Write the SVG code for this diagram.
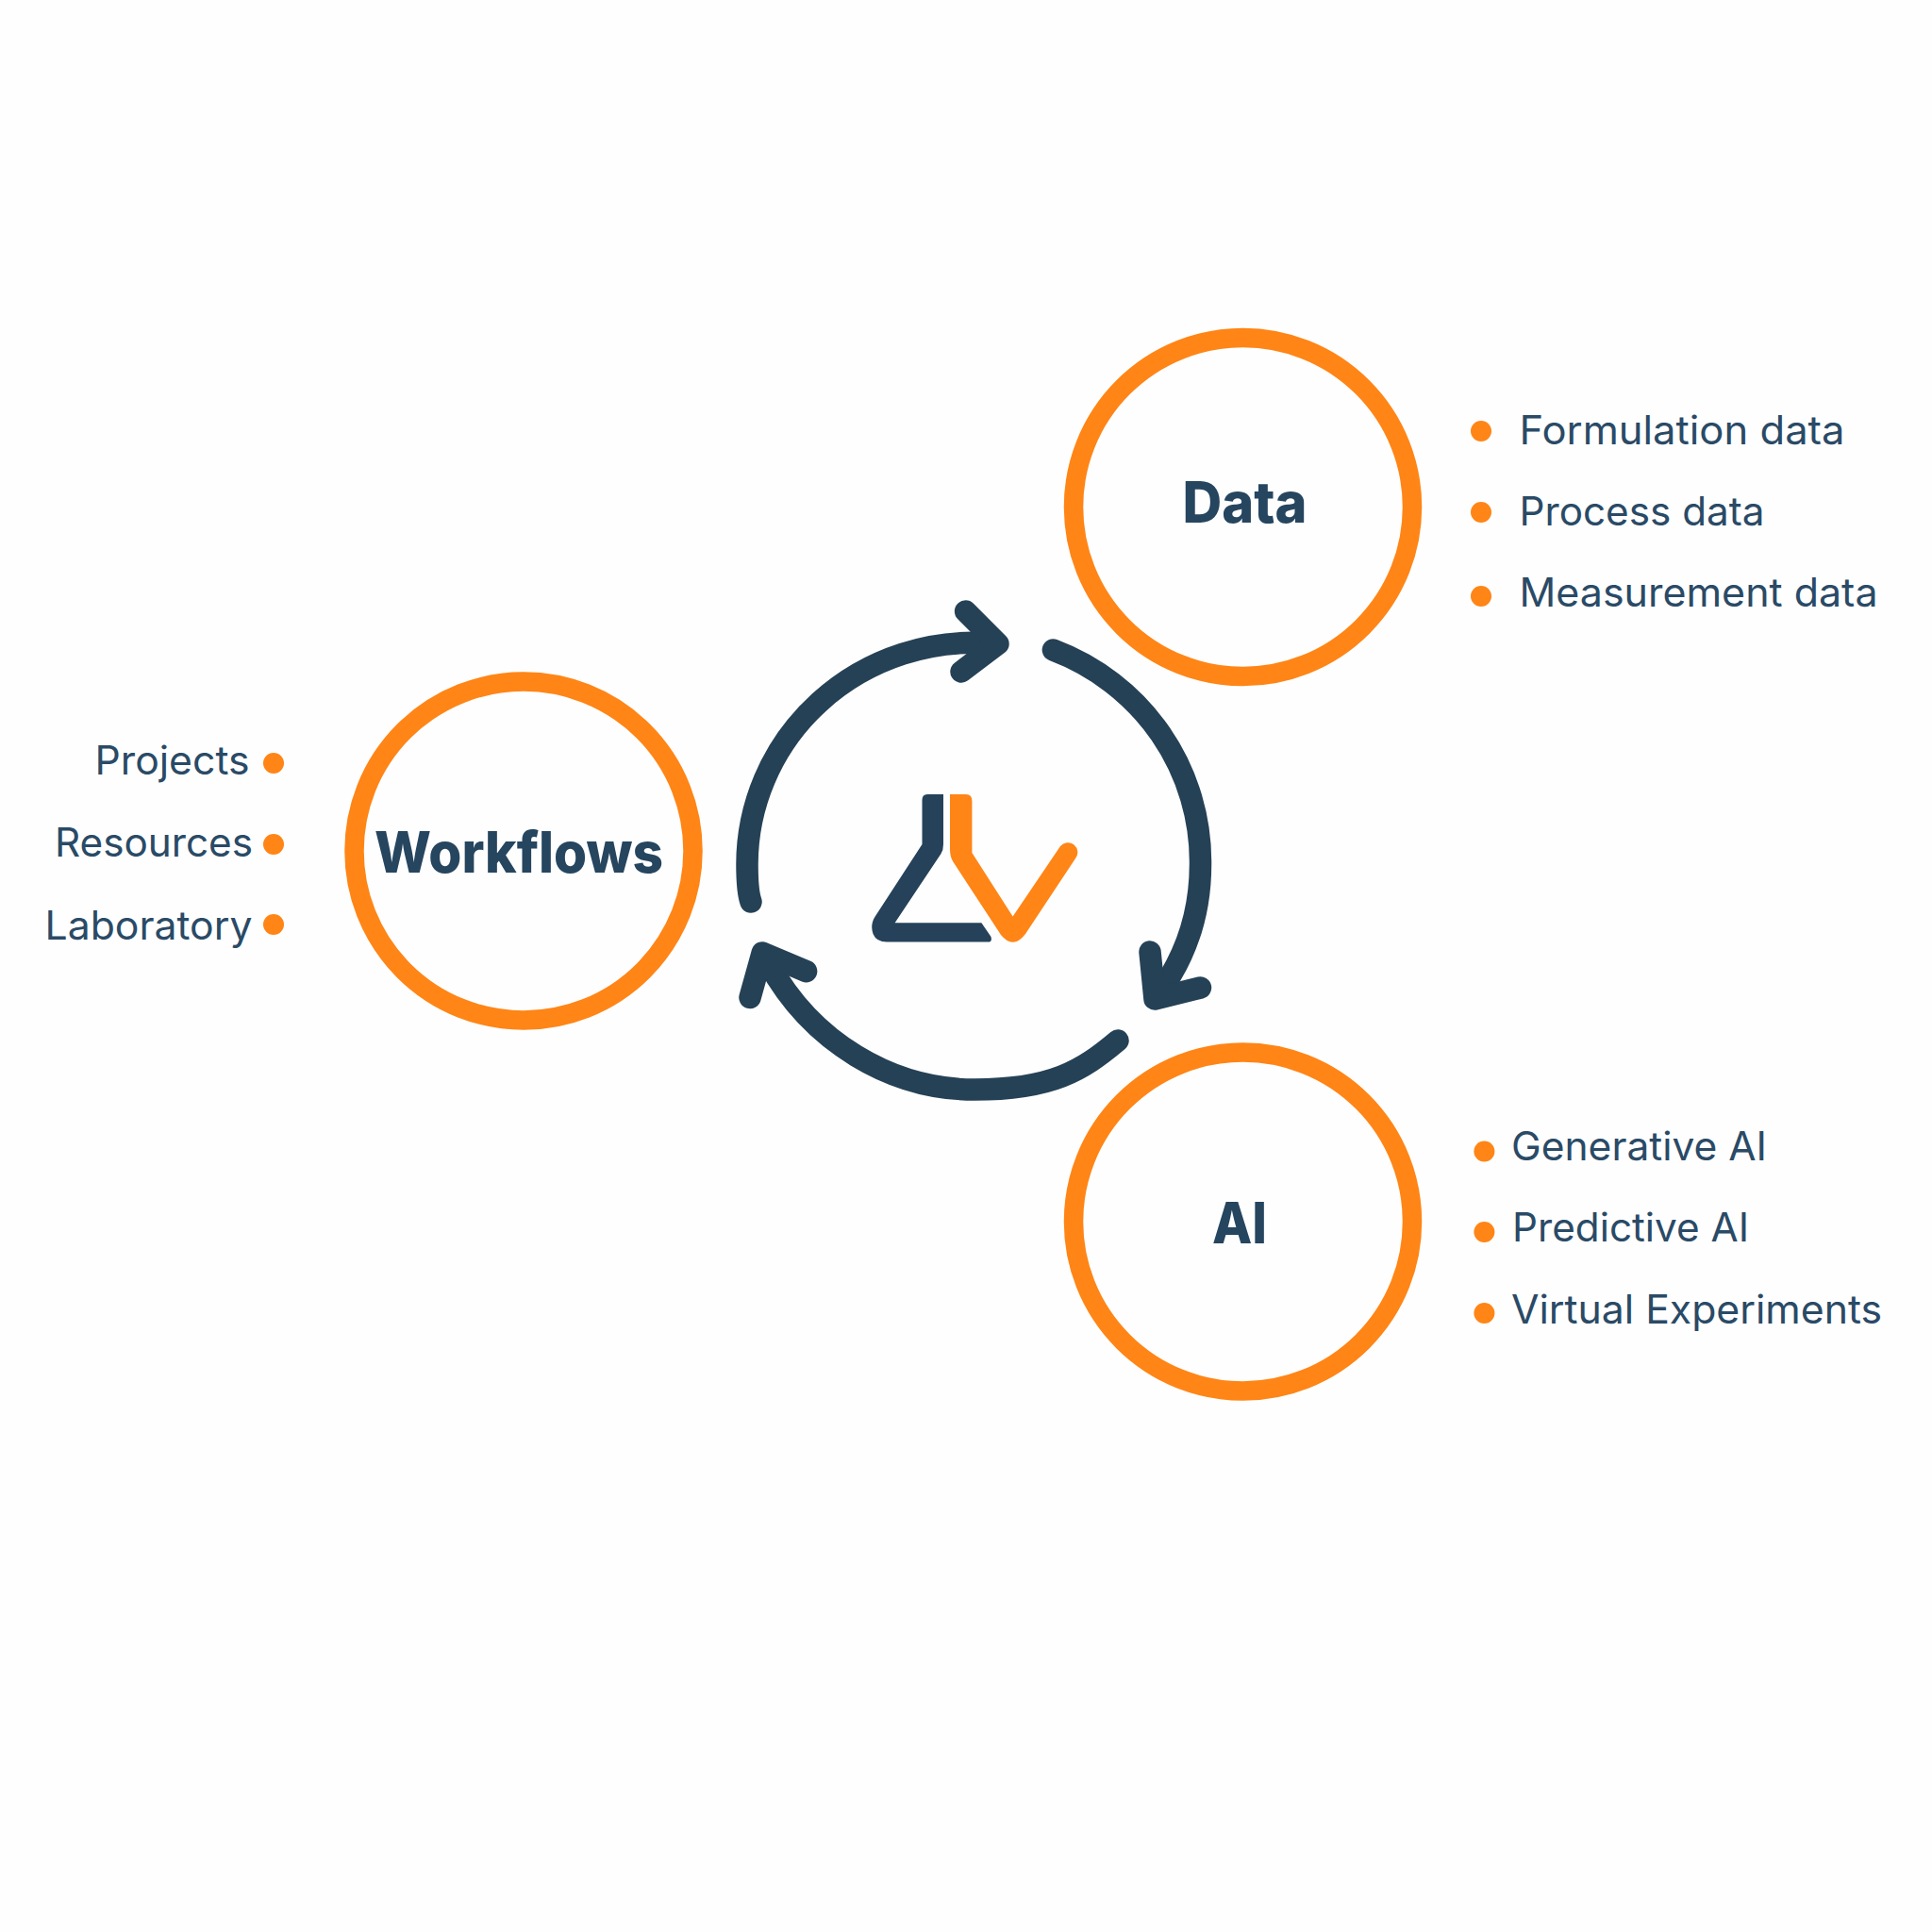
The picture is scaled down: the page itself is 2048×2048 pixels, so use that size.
<svg xmlns="http://www.w3.org/2000/svg" width="2048" height="2048" viewBox="0 0 2048 2048">
<style>
.ring{fill:none;stroke:#ff8516;stroke-width:20.5}
.dot{fill:#ff8516}
.title{font-family:"Inter","Liberation Sans",sans-serif;font-weight:800;font-size:60px;fill:#26455f}
.item{font-family:"Inter","Liberation Sans",sans-serif;font-weight:400;font-size:42px;fill:#2a4a66}
.conn{fill:none;stroke:#254156;stroke-width:23.5;stroke-linecap:round;stroke-linejoin:round}
</style>
<rect width="2048" height="2048" fill="#fefefe"/>
<g id="connectors">
<path class="conn" d="M796,956 Q792,945 792,916 A240,235 0 0 1 1050,682"/>
<path class="conn" d="M1023.6,648 L1058,682.5 L1019,712"/>
<path class="conn" d="M1116.4,689 A242,240 0 0 1 1272.5,916 Q1272.5,995 1226,1056"/>
<path class="conn" d="M1219,1009 L1224,1059 L1272.5,1047"/>
<path class="conn" d="M1185,1103 C1147,1135 1115,1155 1033,1155 C945,1155 860,1105 814,1020"/>
<path class="conn" d="M854.6,1029.6 L808.2,1010 L795,1057.5"/>
</g>
<g id="logo">
<path fill="#25425a" d="M977.5,848 Q977.5,842 983,842 H1000 V895 Q1000,901 997.5,905 L948.6,978.2 H1040.4 L1050.5,993 Q1052,998.6 1047.5,998.6 H940 Q929,998.6 925.5,990 Q922,980 928,971 L977.5,895 Z"/>
<path fill="#ff8516" d="M1007,842 H1024 Q1030.4,842 1030.4,849 V904 L1073.6,971.5 L1124,897 A10.3,10.3 0 0 1 1140,910 L1087,990 Q1074,1007 1061,991 L1010,913 Q1007,908 1007,900 Z"/>
</g>
<g id="node-data">
<circle class="ring" cx="1317.5" cy="537.5" r="179.5"/>
<text class="title" x="1253.5" y="554" textLength="132" lengthAdjust="spacingAndGlyphs">Data</text>
<circle class="dot" cx="1570" cy="457" r="11"/>
<text class="item" x="1610.5" y="471" textLength="345" lengthAdjust="spacingAndGlyphs">Formulation data</text>
<circle class="dot" cx="1570" cy="543" r="11"/>
<text class="item" x="1610.5" y="557" textLength="260" lengthAdjust="spacingAndGlyphs">Process data</text>
<circle class="dot" cx="1570" cy="632" r="11"/>
<text class="item" x="1610.5" y="643" textLength="380" lengthAdjust="spacingAndGlyphs">Measurement data</text>
</g>
<g id="node-workflows">
<circle class="ring" cx="555" cy="902" r="179.5"/>
<text class="title" x="397" y="925" textLength="306" lengthAdjust="spacingAndGlyphs">Workflows</text>
<circle class="dot" cx="290" cy="809" r="11"/>
<text class="item" x="100.5" y="821" textLength="164" lengthAdjust="spacingAndGlyphs">Projects</text>
<circle class="dot" cx="290" cy="895" r="11"/>
<text class="item" x="58" y="908" textLength="210" lengthAdjust="spacingAndGlyphs">Resources</text>
<circle class="dot" cx="290" cy="980" r="11"/>
<text class="item" x="47.5" y="996" textLength="220" lengthAdjust="spacingAndGlyphs">Laboratory</text>
</g>
<g id="node-ai">
<circle class="ring" cx="1317.5" cy="1295" r="179.5"/>
<text class="title" x="1285" y="1318" textLength="58" lengthAdjust="spacingAndGlyphs">AI</text>
<circle class="dot" cx="1573.4" cy="1220.5" r="11"/>
<text class="item" x="1602" y="1230" textLength="271" lengthAdjust="spacingAndGlyphs">Generative AI</text>
<circle class="dot" cx="1573.4" cy="1306" r="11"/>
<text class="item" x="1603" y="1316" textLength="251" lengthAdjust="spacingAndGlyphs">Predictive AI</text>
<circle class="dot" cx="1573.4" cy="1392" r="11"/>
<text class="item" x="1602" y="1402.5" textLength="393" lengthAdjust="spacingAndGlyphs">Virtual Experiments</text>
</g>
</svg>
